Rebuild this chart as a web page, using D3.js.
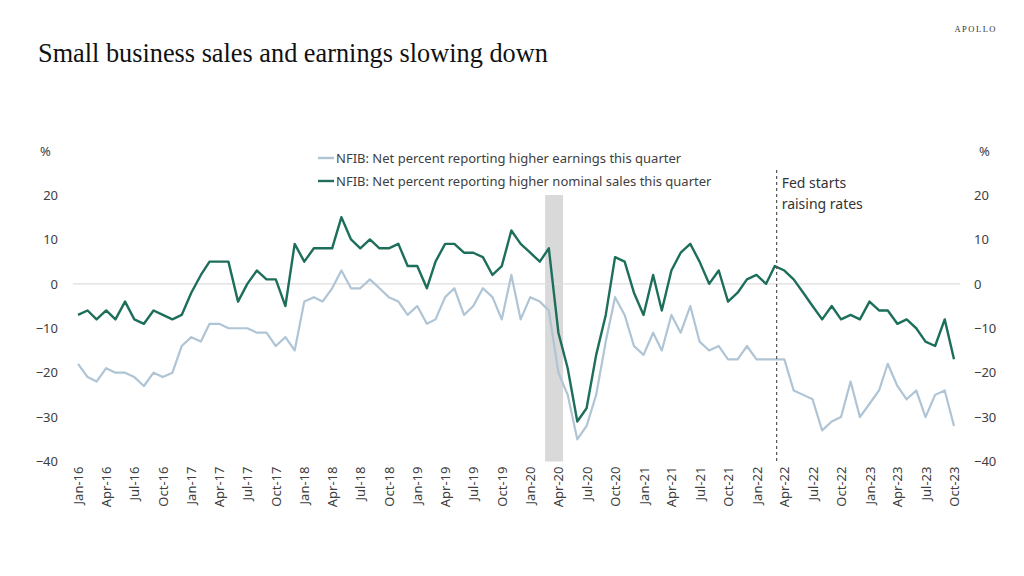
<!DOCTYPE html>
<html>
<head>
<meta charset="utf-8">
<script src="https://cdn.jsdelivr.net/npm/d3@7"></script>
<style>
  body { margin: 0; background: #fff; }
  svg { display: block; }
  .tick text { fill: #404040; }
</style>
</head>
<body>
<svg width="1024" height="576"></svg>
<script>
'use strict'

// monthly, Jan-16 .. Oct-23
const startMonth = '2016-01-01'
const endMonth = '2023-10-01'

const sales = [
  -7, -6, -8, -6, -8, -4, -8, -9, -6, -7, -8, -7,
  -2, 2, 5, 5, 5, -4, 0, 3, 1, 1, -5, 9,
  5, 8, 8, 8, 15, 10, 8, 10, 8, 8, 9, 4,
  4, -1, 5, 9, 9, 7, 7, 6, 2, 4, 12, 9,
  7, 5, 8, -11, -19, -31, -28, -16, -7, 6, 5, -2,
  -7, 2, -6, 3, 7, 9, 5, 0, 3, -4, -2, 1,
  2, 0, 4, 3, 1, -2, -5, -8, -5, -8, -7, -8,
  -4, -6, -6, -9, -8, -10, -13, -14, -8, -17
]

const earnings = [
  -18, -21, -22, -19, -20, -20, -21, -23, -20, -21, -20, -14,
  -12, -13, -9, -9, -10, -10, -10, -11, -11, -14, -12, -15,
  -4, -3, -4, -1, 3, -1, -1, 1, -1, -3, -4, -7,
  -5, -9, -8, -3, -1, -7, -5, -1, -3, -8, 2, -8,
  -3, -4, -6, -20, -25, -35, -32, -25, -13, -3, -7, -14,
  -16, -11, -15, -7, -11, -5, -13, -15, -14, -17, -17, -14,
  -17, -17, -17, -17, -24, -25, -26, -33, -31, -30, -22, -30,
  -27, -24, -18, -23, -26, -24, -30, -25, -24, -32
]

const tickLabels = [
  'Jan-16', 'Apr-16', 'Jul-16', 'Oct-16', 'Jan-17', 'Apr-17', 'Jul-17', 'Oct-17',
  'Jan-18', 'Apr-18', 'Jul-18', 'Oct-18', 'Jan-19', 'Apr-19', 'Jul-19', 'Oct-19',
  'Jan-20', 'Apr-20', 'Jul-20', 'Oct-20', 'Jan-21', 'Apr-21', 'Jul-21', 'Oct-21',
  'Jan-22', 'Apr-22', 'Jul-22', 'Oct-22', 'Jan-23', 'Apr-23', 'Jul-23', 'Oct-23'
]
const yTicks = [-40, -30, -20, -10, 0, 10, 20]

const recession = ['2020-02-18', '2020-04-16']
const fedDate = '2022-03-07'

const legendLabels = [
  'NFIB: Net percent reporting higher earnings this quarter',
  'NFIB: Net percent reporting higher nominal sales this quarter'
]

const colors = { earnings: '#afc4d4', sales: '#1d6e5b' }
const font = '"Noto Sans", sans-serif'

const svg = d3.select('svg')

const parseDay = d3.timeParse('%Y-%m-%d')
const parseTick = d3.timeParse('%b-%y')
const months = d3.timeMonth.range(parseDay(startMonth), d3.timeMonth.offset(parseDay(endMonth), 1))

const x = d3.scaleTime()
  .domain([months[0], months[months.length - 1]])
  .range([78, 954])

const y = d3.scaleLinear()
  .domain([-40, 20])
  .range([461.5, 195])

// title + logo
svg.append('text')
  .attr('x', 38).attr('y', 62)
  .style('font-family', '"Liberation Serif", serif')
  .style('font-size', '26.3px')
  .style('fill', '#111')
  .text('Small business sales and earnings slowing down')

svg.append('text')
  .attr('x', 997).attr('y', 32)
  .attr('text-anchor', 'end')
  .style('font-family', '"Liberation Serif", serif')
  .style('font-size', '8.5px')
  .style('letter-spacing', '1.5px')
  .style('fill', '#333')
  .text('APOLLO')

// recession band
svg.append('rect')
  .attr('x', x(parseDay(recession[0])))
  .attr('y', y(20))
  .attr('width', x(parseDay(recession[1])) - x(parseDay(recession[0])))
  .attr('height', y(-40) - y(20))
  .style('fill', '#d9d9d9')

// zero line
svg.append('line')
  .attr('x1', x.range()[0] - 5).attr('x2', x.range()[1] + 6)
  .attr('y1', y(0)).attr('y2', y(0))
  .style('stroke', '#dedede')
  .style('stroke-width', 1.2)

// y axes
const leftAxis = svg.append('g')
  .attr('transform', 'translate(58,0)')
  .call(d3.axisLeft(y).tickValues(yTicks).tickSize(0).tickPadding(0))
const rightAxis = svg.append('g')
  .attr('transform', 'translate(974,0)')
  .call(d3.axisRight(y).tickValues(yTicks).tickSize(0).tickPadding(0))

;[leftAxis, rightAxis].forEach(g => {
  g.select('.domain').remove()
  g.selectAll('text').style('font-family', font).style('font-size', '13px')
})

svg.append('text').attr('x', 40).attr('y', 156)
  .style('font-family', font).style('font-size', '13px').style('fill', '#404040').text('%')
svg.append('text').attr('x', 979).attr('y', 156)
  .style('font-family', font).style('font-size', '13px').style('fill', '#404040').text('%')

// x axis
const xAxis = svg.append('g')
  .attr('transform', 'translate(0,' + y(-40) + ')')
  .call(d3.axisBottom(x)
    .tickValues(tickLabels.map(parseTick))
    .tickFormat(d3.timeFormat('%b-%y'))
    .tickSize(0))
xAxis.select('.domain').remove()
xAxis.selectAll('text')
  .attr('transform', 'rotate(-90)')
  .attr('text-anchor', 'end')
  .attr('x', -5)
  .attr('y', 0)
  .attr('dy', '0.35em')
  .style('font-family', font)
  .style('font-size', '13px')

// lines
const line = d3.line()
  .x((d, i) => x(months[i]))
  .y(d => y(d))

svg.append('path')
  .datum(earnings)
  .attr('d', line)
  .style('fill', 'none')
  .style('stroke', colors.earnings)
  .style('stroke-width', 2.2)
  .style('stroke-linejoin', 'round')

svg.append('path')
  .datum(sales)
  .attr('d', line)
  .style('fill', 'none')
  .style('stroke', colors.sales)
  .style('stroke-width', 2.4)
  .style('stroke-linejoin', 'round')

// fed marker
const fx = x(parseDay(fedDate))
svg.append('line')
  .attr('x1', fx).attr('x2', fx)
  .attr('y1', 170).attr('y2', y(-40))
  .style('stroke', '#555')
  .style('stroke-width', 1.2)
  .style('stroke-dasharray', '3,3')

svg.append('text')
  .attr('x', fx + 5).attr('y', 188)
  .style('font-family', font).style('font-size', '14px').style('fill', '#333')
  .selectAll('tspan')
  .data(['Fed starts', 'raising rates'])
  .enter()
  .append('tspan')
  .attr('x', fx + 5)
  .attr('dy', (d, i) => i === 0 ? 0 : 21)
  .text(d => d)

// legend
const legend = svg.append('g').attr('transform', 'translate(318,158)')
const items = legend.selectAll('g')
  .data([colors.earnings, colors.sales])
  .enter()
  .append('g')
  .attr('transform', (d, i) => 'translate(0,' + i * 23 + ')')

items.append('line')
  .attr('x1', 0).attr('x2', 16)
  .style('stroke', d => d)
  .style('stroke-width', 2.4)

items.append('text')
  .attr('x', 18)
  .attr('dy', '0.35em')
  .style('font-family', font)
  .style('font-size', '13px')
  .style('fill', '#404040')
  .text((d, i) => legendLabels[i])
</script>
</body>
</html>
